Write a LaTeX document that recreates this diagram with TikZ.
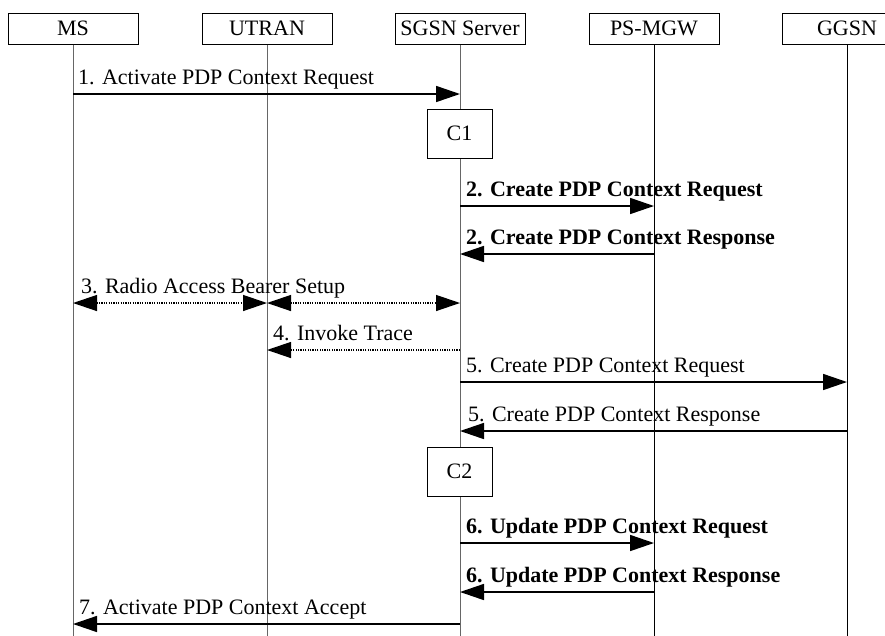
\documentclass[tikz,border=0pt]{standalone}
\usepackage{fontspec}
\setmainfont{Liberation Serif}
\usetikzlibrary{arrows.meta}
\begin{document}
\begin{tikzpicture}[x=1pt,y=-1pt,
  every node/.style={font=\fontsize{22pt}{26pt}\selectfont},
  entity/.style={draw, line width=1pt, fill=white, minimum width=130pt, minimum height=31pt, inner sep=0pt},
  cbox/.style={draw, line width=1pt, fill=white, minimum width=65pt, minimum height=49pt, inner sep=0pt},
  life/.style={line width=1pt},
  greylife/.style={line width=1pt, black!60},
  tip/.tip={Triangle[length=24pt,width=16pt]},
  msg/.style={line width=1.6pt, -tip},
  dmsg/.style={line width=1.3pt, dash pattern=on 1.2pt off 1.2pt, -tip},
  ddmsg/.style={line width=1.3pt, dash pattern=on 1.2pt off 1.2pt, tip-tip},
  lbl/.style={anchor=base west, inner sep=0pt},
  blbl/.style={lbl, font=\fontsize{22pt}{26pt}\selectfont\bfseries}]
\clip (0,0) rectangle (885,635);
% entities
\node[entity] (ms) at (73,28.5) {MS};
\node[entity] (utran) at (267,28.5) {UTRAN};
\node[entity] (sgsn) at (460,28.5) {SGSN Server};
\node[entity] (mgw) at (654,28.5) {PS-MGW};
\node[entity] (ggsn) at (847,28.5) {GGSN};
\coordinate (bot) at (0,636);
% lifelines
\draw[greylife] (ms.south) -- (ms.south |- bot);
\draw[greylife] (utran.south) -- (utran.south |- bot);
\draw[greylife] (sgsn.south) -- (sgsn.south |- bot);
\draw[life] (mgw.south) -- (mgw.south |- bot);
\draw[life] (ggsn.south) -- (ggsn.south |- bot);
% rows
\coordinate (y1) at (0,94);
\coordinate (yc1) at (0,133.5);
\coordinate (y2a) at (0,206);
\coordinate (y2b) at (0,254);
\coordinate (y3) at (0,303);
\coordinate (y4) at (0,350);
\coordinate (y5a) at (0,382);
\coordinate (y5b) at (0,431);
\coordinate (yc2) at (0,471.5);
\coordinate (y6a) at (0,543);
\coordinate (y6b) at (0,592);
\coordinate (y7) at (0,624);
% boxes
\node[cbox] (c1) at ([xshift=-0.5pt]sgsn |- yc1) {C1};
\node[cbox] (c2) at ([xshift=-0.5pt]sgsn |- yc2) {C2};
% messages
\draw[msg] (ms |- y1) -- (sgsn |- y1);
\path (ms |- y1) ++(5,-10) node[lbl] (l1) {1. Activate PDP Context Request};
\draw[msg] (sgsn |- y2a) -- (mgw |- y2a);
\path (sgsn |- y2a) ++(6,-10) node[blbl] (l2a) {2. Create PDP Context Request};
\draw[msg] (mgw |- y2b) -- (sgsn |- y2b);
\path (sgsn |- y2b) ++(6,-10) node[blbl] (l2b) {2. Create PDP Context Response};
\draw[ddmsg] (ms |- y3) -- (utran |- y3);
\draw[ddmsg] (utran |- y3) -- (sgsn |- y3);
\path (ms |- y3) ++(8,-10) node[lbl] (l3) {3. Radio Access Bearer Setup};
\draw[dmsg] (sgsn |- y4) -- (utran |- y4);
\path (utran |- y4) ++(6,-10) node[lbl] (l4) {4. Invoke Trace};
\draw[msg] (sgsn |- y5a) -- (ggsn |- y5a);
\path (sgsn |- y5a) ++(6,-10) node[lbl] (l5a) {5. Create PDP Context Request};
\draw[msg] (ggsn |- y5b) -- (sgsn |- y5b);
\path (sgsn |- y5b) ++(8,-10) node[lbl] (l5b) {5. Create PDP Context Response};
\draw[msg] (sgsn |- y6a) -- (mgw |- y6a);
\path (sgsn |- y6a) ++(6,-10) node[blbl] (l6a) {6. Update PDP Context Request};
\draw[msg] (mgw |- y6b) -- (sgsn |- y6b);
\path (sgsn |- y6b) ++(6,-10) node[blbl] (l6b) {6. Update PDP Context Response};
\draw[msg] (sgsn |- y7) -- (ms |- y7);
\path (ms |- y7) ++(6,-10) node[lbl] (l7) {7. Activate PDP Context Accept};
\end{tikzpicture}
\end{document}
